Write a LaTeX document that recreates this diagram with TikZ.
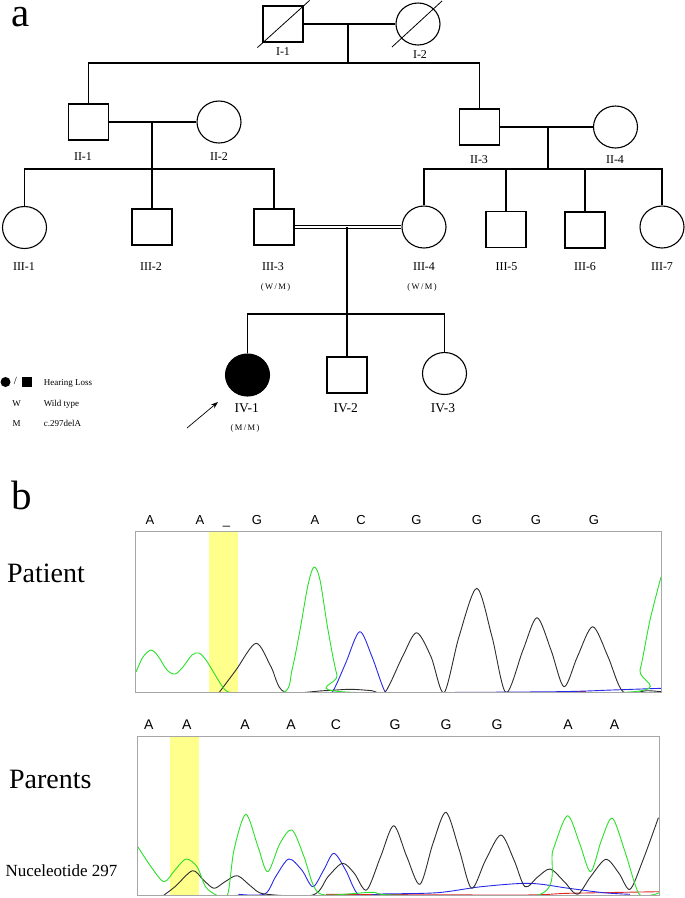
\documentclass[tikz,border=0pt]{standalone}
\usepackage{fontspec}
\setmainfont{Liberation Serif}
\newfontfamily\basefont{Liberation Sans}
\usetikzlibrary{shapes.geometric,arrows.meta}

\definecolor{trgreen}{RGB}{40,225,40}
\definecolor{trblue}{RGB}{40,40,235}
\definecolor{trred}{RGB}{225,40,40}
\definecolor{trblack}{RGB}{45,45,45}
\definecolor{hlyellow}{RGB}{255,255,140}

\tikzset{
  male/.style={draw, minimum width=40pt, minimum height=36pt, inner sep=0pt},
  female/.style={draw, ellipse, minimum width=44pt, minimum height=42pt, inner sep=0pt},
  affected/.style={fill=black},
  pid/.style={font=\fontsize{12}{12}\selectfont, inner sep=0pt},
  geno/.style={font=\fontsize{8.5}{9}\selectfont, inner sep=0pt},
  legtext/.style={font=\fontsize{9}{9}\selectfont, anchor=base west, inner sep=0pt},
  panel/.style={font=\fontsize{41}{41}\selectfont, anchor=base, inner sep=0pt},
  sample/.style={font=\fontsize{28}{28}\selectfont, anchor=base west, inner sep=0pt},
  base/.style={font=\basefont\fontsize{13}{13}\selectfont, anchor=base, inner sep=0pt},
  trace/.style={line width=0.9pt, line join=round},
  seqbox/.style={draw=gray!70, line width=0.8pt},
}

\begin{document}
\begin{tikzpicture}[x=1pt, y=-1pt, line width=1.1pt]

  \useasboundingbox (0,0) rectangle (685,898);

  % panel a: pedigree
  \node[panel, text height=20pt] (pa) at (20.5,26) {a};

  % generation I
  \node[male]   (I1) at (283,24) {};
  \node[female] (I2) at (418,24) {};
  \draw[line width=0.8pt] ([shift={(-5,5)}]I1.south west) -- ([shift={(6,-5)}]I1.north east);
  \draw[line width=0.8pt] ([shift={(-26,23)}]I2.center) -- ([shift={(24,-23)}]I2.center);
  \node[pid] (lI1) at (283,52) {I-1};
  \node[pid] (lI2) at (420,55) {I-2};

  % generation II
  \node[male]   (II1) at (88.5,122) {};
  \node[female] (II2) at (219,122) {};
  \node[male]   (II3) at (479.5,127) {};
  \node[female] (II4) at (615.5,127) {};
  \foreach \t/\x/\y [count=\i] in {II-1/83/157, II-2/219/157, II-3/479/160, II-4/615/160}
    \node[pid] (lII\i) at (\x,\y) {\t};

  % generation III
  \node[female] (III1) at (24.5,227.5) {};
  \node[male]   (III2) at (152,227) {};
  \node[male]   (III3) at (274,227) {};
  \node[female] (III4) at (424,227) {};
  \node[male]   (III5) at (506,229.5) {};
  \node[male]   (III6) at (585,230) {};
  \node[female] (III7) at (662,227) {};

  % generation IV
  \node[female, affected] (IV1) at (247.5,375) {};
  \node[male]             (IV2) at (347,375) {};
  \node[female]           (IV3) at (444.5,373.5) {};

  % matings and sibships
  \coordinate (c1) at (348,24);
  \coordinate (s1) at (348,63);
  \coordinate (c2) at (152,122);
  \coordinate (s2) at (152,169);
  \coordinate (c3) at (548,127);
  \coordinate (s3) at (548,169);
  \coordinate (c4) at (347,227);
  \coordinate (s4) at (347,314);

  \draw (I1) -- (I2);
  \draw (c1) -- (s1);
  \draw (II1.north) |- (s1) -| (II3.north);

  \draw (II1) -- (II2);
  \draw (c2) -- (III2.north);
  \draw (III1.north) |- (s2) -| (III3.north);

  \draw (II3) -- (II4);
  \draw (c3) -- (s3);
  \draw (III4.north) |- (s3) -| (III7.north);
  \draw (III5.north) -- (III5.north |- s3);
  \draw (III6.north) -- (III6.north |- s3);

  \draw[double, double distance=2.2pt, line width=0.7pt] (III3) -- (III4);
  \draw (c4) -- (IV2.north);
  \draw (IV1.north) |- (s4) -| (IV3.north);

  % labels
  \foreach \t/\x [count=\i] in {III-1/24, III-2/151, III-3/273, III-4/424, III-5/506.5, III-6/585, III-7/662}
    \node[pid] (lIII\i) at (\x,267) {\t};
  \foreach \t/\x [count=\i] in {IV-1/246.7, IV-2/345.7, IV-3/443}
    \node[pid, font=\fontsize{13.5}{14}\selectfont] (lIV\i) at (\x,408) {\t};
  \node[geno] (gIII3) at (275.6,287) {(\,W\,/\,M\,)};
  \node[geno] (gIII4) at (422,287) {(\,W\,/\,M\,)};
  \node[geno] (gIV1) at (245,428) {(\,M\,/\,M\,)};

  % proband
  \coordinate (arrtail) at (187,428);
  \coordinate (arrtip) at (218,402);
  \draw[line width=0.7pt, -{Stealth[length=7pt, width=5pt]}] (arrtail) -- (arrtip);

  % legend
  \node[circle, fill, minimum size=10pt, inner sep=0pt] (legc) at (5.5,382) {};
  \node[font=\fontsize{11}{11}\selectfont, inner sep=0pt] (legs) at (15.5,381) {/};
  \node[fill, minimum size=10pt, inner sep=0pt] (legq) at (26.7,381.7) {};
  \node[legtext] (leg1) at (43.3,385) {Hearing Loss};
  \node[legtext, anchor=base] (legW) at (16.7,406) {W};
  \node[legtext] (leg2) at (43.3,406) {Wild type};
  \node[legtext, anchor=base] (legM) at (16.7,426) {M};
  \node[legtext] (leg3) at (43.3,426) {c.297delA};

  % panel b: chromatograms
  \node[panel] (pb) at (22,509) {b};
  \node[sample] (patient) at (6.5,582) {Patient};
  \node[sample] (parents) at (8.5,788) {Parents};
  \node[font=\fontsize{17}{17}\selectfont, anchor=base west, inner sep=0pt] (nuc) at (5,876) {Nuceleotide 297};

  \foreach \b/\x [count=\i] in {A/150, A/200, \_/226.6, G/257, A/315, C/361, G/416.5, G/477, G/536, G/594}
    \node[base] (pt\i) at (\x,524) {\b};
  \foreach \b/\x [count=\i] in {A/148.7, A/186.8, A/245, A/291, C/336, G/395, G/446, G/497, A/568, A/614.6}
    \node[base, font=\basefont\fontsize{14}{14}\selectfont] (pr\i) at (\x,729) {\b};

  % patient trace
  \fill[hlyellow] (209,531.7) rectangle (238.4,692.7);
  \begin{scope}
    \clip (135.6,531.7) rectangle (661.4,692.7);
    \draw[trace, trred] (293,692) -- (315,692) (569,691) -- (586,691);
    \draw[trace, trblue] plot[smooth, tension=.5] coordinates {(323.7,692.7) (332.5,691.7) (345.6,663.3) (359.6,631.7) (372,656.7) (385,691.7) (393.7,692.7) (555.6,691.7) (612,690) (661,688.3)};
    \draw[trace, trblack] plot[smooth, tension=.5] coordinates {(219,692.7) (236,670) (256,643.3) (271,666.7) (284,691.7) (323.7,690.7) (350,689.3) (372,690.7) (385,692.3) (402.5,656.7) (416.5,632.7) (431,656.7) (444,692.7) (459,636.7) (476.8,588.3) (492,636.7) (506,692.7) (523,650) (537,617.7) (551,650) (564,686.7) (577.4,656.7) (592.7,626.7) (608,656.7) (623,691.7) (647,690.7) (661,691.7)};
    \draw[trace, trgreen] plot[smooth, tension=.5] coordinates {(136,672) (143,657) (151,650) (158,656) (167,670) (175,674) (183,667) (192,655) (199,653) (206,660) (214,673) (222,686) (228,692) (240,692.5) (284,692) (292,670) (300,630) (308,585) (314,567) (320,580) (328,630) (337,675) (346,692) (630,692) (640,670) (650,620) (661,577)};
  \end{scope}
  \draw[seqbox] (135.6,531.7) rectangle (661.4,692.7);

  % parents trace
  \fill[hlyellow] (169.7,736.7) rectangle (199,895.7);
  \begin{scope}
    \clip (137.8,736.7) rectangle (659.2,895.7);
    \draw[trace, trred] plot[smooth, tension=.5] coordinates {(326,894.3) (520.6,895) (568.7,893.3) (659,891.7)};
    \draw[trace, trblue] plot[smooth, tension=.5] coordinates {(238.4,894.3) (264.7,894) (275.6,876.7) (288.7,859) (301.8,870) (312.8,886.7) (323.7,870) (333.8,853.3) (345.6,870) (358.7,895) (380.6,894) (437.4,892.7) (481.2,886.7) (529.3,883.3) (568.7,888.3) (603.7,892.7) (630,894.3)};
    \draw[trace, trblack] plot[smooth, tension=.5] coordinates {(164,895) (175,886.7) (192.5,870.7) (203.4,880) (214,888.3) (225,881.7) (237.5,875.7) (251.5,886.7) (264.7,894) (312.8,895) (328,876.7) (342.5,863.3) (354.3,873.3) (366.6,890) (380.6,856.7) (393.7,825.7) (406.8,856.7) (420,884.3) (433,843.3) (446,812.3) (459.3,850) (471.6,888.3) (485.6,860) (500.9,835) (514,860) (525,886.7) (538,876.7) (550.3,869) (564.3,881.7) (577.4,894.3) (590.6,876.7) (605.9,859.3) (619,873.3) (630,889.3) (643,860) (658.4,817.7)};
    \draw[trace, trgreen] plot[smooth, tension=.5] coordinates {(137.8,846.7) (151,866.7) (164,881.7) (175,870) (186,859) (197,866.7) (205.6,886.7) (216.5,895) (227.5,895) (234,850) (245.8,814.3) (258,846.7) (267.7,871.7) (280,843.3) (292,830) (304,856.7) (314,886.7) (326,895) (372,892.3) (393.7,895) (538,895) (553,850) (567.4,815.7) (579.6,843.3) (590.6,871.7) (601.5,840) (612.4,818.3) (625.5,853.3) (638.7,893.3) (651.8,895) (659,892.7)};
  \end{scope}
  \draw[seqbox] (137.8,736.7) rectangle (659.2,895.7);

\end{tikzpicture}
\end{document}
